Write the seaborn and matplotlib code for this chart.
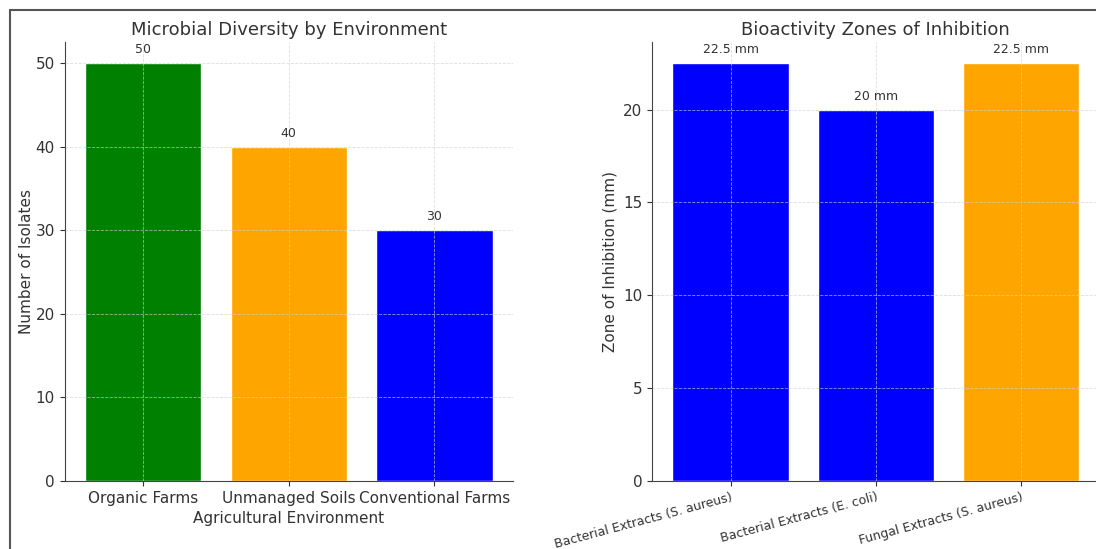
import matplotlib
matplotlib.use('Agg')
import matplotlib.pyplot as plt
import seaborn as sns
import pandas as pd

# data
envs = ['Organic Farms', 'Unmanaged Soils', 'Conventional Farms']
isolates = [50, 40, 30]
env_colors = ['green', 'orange', 'blue']

extracts = ['Bacterial Extracts (S. aureus)', 'Bacterial Extracts (E. coli)', 'Fungal Extracts (S. aureus)']
zones = [22.5, 20, 22.5]
zone_labels = ['22.5 mm', '20 mm', '22.5 mm']
extract_colors = ['blue', 'blue', 'orange']

sns.set_style('ticks')
plt.rcParams['font.family'] = ['DejaVu Sans']
txt = '#333333'
plt.rcParams['text.color'] = txt
plt.rcParams['axes.labelcolor'] = txt
plt.rcParams['xtick.color'] = txt
plt.rcParams['ytick.color'] = txt
plt.rcParams['axes.edgecolor'] = '#444444'

fig = plt.figure(figsize=(10.96, 5.49), dpi=100)
ax1 = fig.add_axes([0.059, 0.124, 0.409, 0.799])
ax2 = fig.add_axes([0.595, 0.124, 0.408, 0.799])

df1 = pd.DataFrame({'env': envs, 'n': isolates})
sns.barplot(data=df1, x='env', y='n', hue='env', palette=env_colors,
            legend=False, ax=ax1, width=0.8, saturation=1)
for i, v in enumerate(isolates):
    ax1.annotate(str(v), (i, v), xytext=(0, 5), textcoords='offset points',
                 ha='center', va='bottom', fontsize=9)
ax1.set_title('Microbial Diversity by Environment', fontsize=13, color=txt, pad=5)
ax1.set_xlabel('Agricultural Environment', fontsize=11)
ax1.set_ylabel('Number of Isolates', fontsize=11, labelpad=1)
ax1.set_ylim(0, 52.5)
ax1.set_yticks([0, 10, 20, 30, 40, 50])
ax1.tick_params(labelsize=11)

df2 = pd.DataFrame({'ext': extracts, 'z': zones})
sns.barplot(data=df2, x='ext', y='z', hue='ext', palette=extract_colors,
            legend=False, ax=ax2, width=0.8, saturation=1)
for i, (v, lab) in enumerate(zip(zones, zone_labels)):
    ax2.annotate(lab, (i, v), xytext=(0, 5), textcoords='offset points',
                 ha='center', va='bottom', fontsize=9)
ax2.set_title('Bioactivity Zones of Inhibition', fontsize=13, color=txt, pad=5)
ax2.set_xlabel('')
ax2.set_ylabel('Zone of Inhibition (mm)', fontsize=11)
ax2.set_ylim(0, 23.625)
ax2.set_yticks([0, 5, 10, 15, 20])
ax2.tick_params(axis='y', labelsize=11)
ax2.set_xticks(range(3))
ax2.set_xticklabels(extracts, rotation=15, ha='right', fontsize=9,
                    rotation_mode='anchor')

for ax in (ax1, ax2):
    ax.set_xlim(-0.54, 2.54)
    ax.grid(True, linestyle='--', linewidth=0.6, color='#d0d0d0')
    ax.set_axisbelow(False)
    for p in ax.patches:
        p.set_zorder(1)
    ax.spines['top'].set_visible(False)
    ax.spines['right'].set_visible(False)
    for l in ax.get_xgridlines() + ax.get_ygridlines():
        l.set_zorder(2)
        l.set_alpha(0.7)

# screenshot frame
fig.add_artist(plt.Line2D([10 / 1096, 10 / 1096], [0, 1 - 10 / 549], color='#555555', lw=1.5))
fig.add_artist(plt.Line2D([10 / 1096, 1], [1 - 10 / 549, 1 - 10 / 549], color='#555555', lw=1.5))

fig.savefig('out.png', dpi=100)
